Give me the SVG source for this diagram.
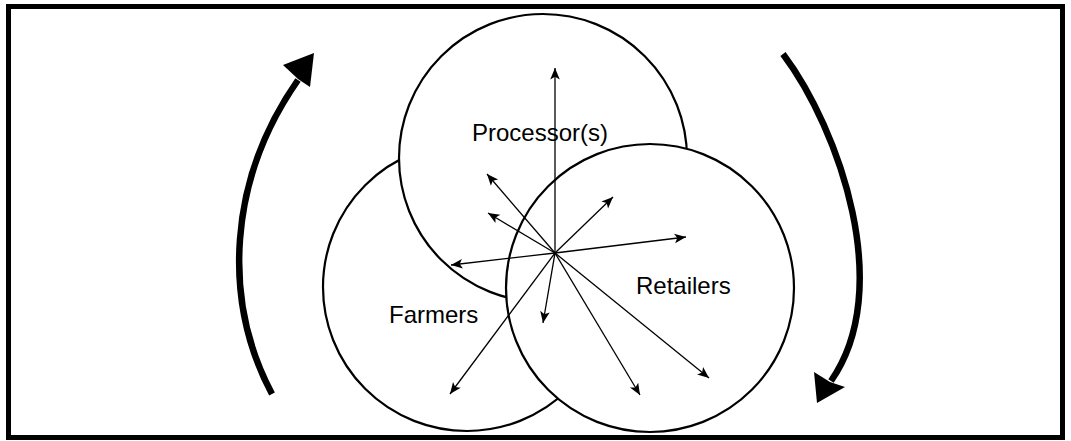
<svg xmlns="http://www.w3.org/2000/svg" width="1071" height="441" viewBox="0 0 1071 441">
  <defs>
    <style>
      .frame { fill: #ffffff; stroke: #000000; stroke-width: 5; }
      .node { fill: #ffffff; stroke: #000000; stroke-width: 2.2; }
      .label { font-family: "Liberation Sans", Arial, sans-serif; font-size: 24px; fill: #000000; }
      .ray { fill: none; stroke: #000000; stroke-width: 1.3; marker-end: url(#tip); }
      .flow { fill: none; stroke: #000000; stroke-width: 6.5; }
      .flowhead { fill: #000000; stroke: none; }
    </style>
    <marker id="tip" markerUnits="userSpaceOnUse" viewBox="-12 -6 13 12" refX="0" refY="0" markerWidth="13" markerHeight="12" orient="auto">
      <path d="M0,0 L-11.5,-4.8 L-8.8,0 L-11.5,4.8 Z" fill="#000000"/>
    </marker>
  </defs>

  <!-- outer frame -->
  <rect class="frame" x="8.5" y="6.5" width="1054" height="431"/>

  <!-- supply-chain partners, back to front -->
  <g id="farmers">
    <circle class="node" cx="467" cy="287" r="144"/>
    <text class="label" x="389" y="323">Farmers</text>
  </g>
  <g id="processors">
    <circle class="node" cx="543" cy="158" r="144"/>
    <text class="label" x="472" y="141">Processor(s)</text>
  </g>
  <g id="retailers">
    <circle class="node" cx="650" cy="288" r="144"/>
    <text class="label" x="636" y="294">Retailers</text>
  </g>

  <!-- information rays from the shared hub -->
  <g id="connectors">
    <line class="ray" x1="555" y1="253" x2="555" y2="68"/>
    <line class="ray" x1="555" y1="253" x2="487" y2="174"/>
    <line class="ray" x1="555" y1="253" x2="488" y2="213"/>
    <line class="ray" x1="555" y1="253" x2="613" y2="197"/>
    <line class="ray" x1="555" y1="253" x2="686" y2="237"/>
    <line class="ray" x1="555" y1="253" x2="451" y2="265"/>
    <line class="ray" x1="555" y1="253" x2="450" y2="394"/>
    <line class="ray" x1="555" y1="253" x2="543" y2="323"/>
    <line class="ray" x1="555" y1="253" x2="640" y2="395"/>
    <line class="ray" x1="555" y1="253" x2="709" y2="378"/>

    <!-- circulation arrows -->
    <path class="flow" d="M272,394 C222,300 228,180 298,80"/>
    <polygon class="flowhead" points="314,53 283,65 298,79 310,87"/>
    <path class="flow" d="M783,54 C840,130 895,290 831,381"/>
    <polygon class="flowhead" points="817,403 814,372 830,382 845,387"/>
  </g>
</svg>
